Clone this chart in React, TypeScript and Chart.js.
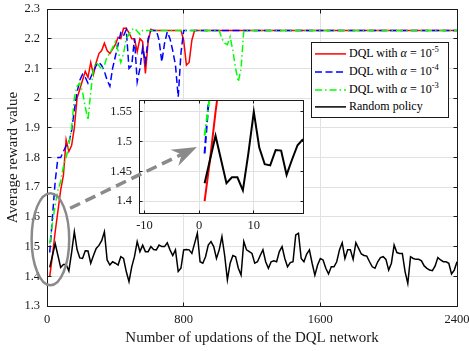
import React, { useEffect, useRef } from "react";
import { Chart, registerables } from "chart.js";

Chart.register(...registerables);

const FONT = "'Liberation Serif', 'Times New Roman', Times, serif";

// ---------------- data ----------------
const updatesPerStep = 16; // network updates between two recorded samples
const lastStep = 150;
const convergedReward = 2.228;

const xTickValues = [0, 800, 1600, 2400];
const yTickValues = [1.3, 1.4, 1.5, 1.6, 1.7, 1.8, 1.9, 2.0, 2.1, 2.2, 2.3];
const insetXTickValues = [-10, 0, 10];
const insetYTickValues = [1.4, 1.45, 1.5, 1.55];

const xTitle = "Number of updations of the DQL network";
const yTitle = "Average reward value";
const randomLabel = "Random policy";
const alphaExponents = ["-5", "-4", "-3"];

// Random policy, samples 1..150
const randomPolicy = [
  1.43, 1.47, 1.51, 1.47, 1.43, 1.44, 1.44, 1.418, 1.48, 1.55,
  1.49, 1.462, 1.46, 1.486, 1.485, 1.444, 1.47, 1.494, 1.504, 1.52,
  1.55, 1.455, 1.438, 1.449, 1.444, 1.438, 1.466, 1.46, 1.416, 1.382,
  1.432, 1.466, 1.517, 1.483, 1.505, 1.483, 1.483, 1.5, 1.49, 1.489,
  1.505, 1.5, 1.5, 1.513, 1.489, 1.47, 1.489, 1.416, 1.427, 1.489,
  1.49, 1.489, 1.477, 1.511, 1.545, 1.449, 1.444, 1.466, 1.505, 1.517,
  1.5, 1.46, 1.489, 1.534, 1.47, 1.388, 1.444, 1.47, 1.466, 1.427,
  1.404, 1.517, 1.489, 1.483, 1.477, 1.444, 1.449, 1.47, 1.489, 1.449,
  1.427, 1.449, 1.452, 1.449, 1.483, 1.5, 1.46, 1.432, 1.446, 1.449,
  1.539, 1.545, 1.46, 1.449, 1.475, 1.489, 1.444, 1.404, 1.438, 1.46,
  1.455, 1.427, 1.408, 1.432, 1.432, 1.449, 1.489, 1.513, 1.46, 1.489,
  1.489, 1.457, 1.513, 1.494, 1.475, 1.47, 1.468, 1.449, 1.432, 1.427,
  1.449, 1.463, 1.466, 1.457, 1.421, 1.444, 1.505, 1.48, 1.477, 1.477,
  1.416, 1.376, 1.466, 1.46, 1.457, 1.457, 1.452, 1.435, 1.427, 1.421,
  1.419, 1.435, 1.463, 1.455, 1.449, 1.449, 1.444, 1.408, 1.421, 1.449,
];

// DQL, alpha = 1e-5 (samples 1..54, then stays at the converged value)
const dqlAlpha5 = [
  1.4, 1.47, 1.55, 1.62, 1.69, 1.74, 1.86, 1.82, 1.84, 1.9,
  2.0, 2.03, 2.06, 2.09, 2.07, 2.12, 2.08, 2.12, 2.15, 2.16,
  2.185, 2.16, 2.15, 2.165, 2.18, 2.205, 2.2, 2.235, 2.235, 2.22,
  2.2, 2.2, 2.156, 2.2, 2.19, 2.083, 2.19, 2.232, 2.228, 2.228,
  2.228, 2.228, 2.228, 2.228, 2.228, 2.228, 2.228, 2.228, 2.228, 2.195,
  2.111, 2.12, 2.195, 2.228,
];

// DQL, alpha = 1e-4 (samples 1..50)
const dqlAlpha4 = [
  1.48, 1.6, 1.72, 1.8, 1.8, 1.82, 1.84, 1.85, 1.89, 1.96,
  2.02, 2.06, 2.08, 2.07, 2.05, 2.07, 2.09, 2.11, 2.12, 2.11,
  2.09, 2.06, 2.04, 2.1, 2.14, 2.18, 2.22, 2.21, 2.23, 2.1,
  2.11, 2.2, 2.055, 2.1, 2.17, 2.12, 2.2, 2.228, 2.228, 2.228,
  2.195, 2.122, 2.184, 2.223, 2.2, 2.16, 2.111, 2.004, 2.15, 2.228,
];

// DQL, alpha = 1e-3 (samples 1..72)
const dqlAlpha3 = [
  1.51, 1.58, 1.64, 1.69, 1.72, 1.77, 1.8, 1.84, 1.9, 2.0,
  2.04, 2.05, 2.02, 1.97, 1.926, 2.02, 2.1, 2.12, 2.11, 2.095,
  2.11, 2.14, 2.15, 2.17, 2.19, 2.16, 2.12, 2.15, 2.2, 2.215,
  2.23, 2.235, 2.225, 2.215, 2.228, 2.228, 2.228, 2.228, 2.228, 2.228,
  2.228, 2.228, 2.228, 2.228, 2.228, 2.228, 2.228, 2.228, 2.228, 2.228,
  2.228, 2.228, 2.228, 2.228, 2.228, 2.228, 2.228, 2.228, 2.228, 2.228,
  2.228, 2.228, 2.228, 2.2, 2.185, 2.18, 2.206, 2.16, 2.1, 2.055,
  2.1, 2.228,
];

// annotation geometry in data units
const zoomEllipse = { x: 20, y: 1.525, rx: 110, ry: 0.155 }; // main-axes units
const arrowFrom = { x: -23.6, y: 1.388 }; // inset-axes units
const arrowTo = { x: -0.4, y: 1.491 };

// ---------------- helpers ----------------
const COLORS = { red: "#ff0000", blue: "#0000ff", green: "#00ff00", black: "#000000", annot: "#8a8a8a" };
const DASH_BLUE = [7, 3.5];
const DASH_GREEN = [7, 3, 1.5, 3];

function toPoints(values: number[], step: number, extend: boolean) {
  const pts = values.map((v, i) => ({ x: (i + 1) * step, y: v }));
  if (extend && values.length < lastStep) pts.push({ x: lastStep * step, y: convergedReward });
  return pts;
}

const fmt = (v: number) => String(Math.round(v * 100) / 100);

function zeroPadding(s: any) {
  s.paddingTop = 0;
  s.paddingBottom = 0;
  s.paddingLeft = 0;
  s.paddingRight = 0;
}

function drawBox(chart: any, len: number) {
  const { ctx, chartArea: a, scales } = chart;
  const al = (p: number) => Math.round(p - 0.5) + 0.5;
  const L = al(a.left), R = al(a.right), T = al(a.top), B = al(a.bottom);
  ctx.save();
  ctx.strokeStyle = "#1a1a1a";
  ctx.lineWidth = 1;
  ctx.setLineDash([]);
  ctx.beginPath();
  for (const t of scales.x.ticks) {
    const p = al(scales.x.getPixelForValue(t.value));
    ctx.moveTo(p, B); ctx.lineTo(p, B - len);
    ctx.moveTo(p, T); ctx.lineTo(p, T + len);
  }
  for (const t of scales.y.ticks) {
    const p = al(scales.y.getPixelForValue(t.value));
    ctx.moveTo(L, p); ctx.lineTo(L + len, p);
    ctx.moveTo(R, p); ctx.lineTo(R - len, p);
  }
  ctx.stroke();
  ctx.strokeRect(L, T, R - L, B - T);
  ctx.restore();
}

function datasets(step: number, extend: boolean, width: number) {
  const common = { pointRadius: 0, fill: false, tension: 0, borderWidth: width };
  return [
    { ...common, label: "a5", data: toPoints(dqlAlpha5, step, extend), borderColor: COLORS.red, order: 3 },
    { ...common, label: "a4", data: toPoints(dqlAlpha4, step, extend), borderColor: COLORS.blue, borderDash: DASH_BLUE, order: 2 },
    { ...common, label: "a3", data: toPoints(dqlAlpha3, step, extend), borderColor: COLORS.green, borderDash: DASH_GREEN, order: 1 },
    { ...common, label: randomLabel, data: toPoints(randomPolicy, step, false), borderColor: COLORS.black, order: 0 },
  ];
}

const tickFont = { family: FONT, size: 12.5 };
const titleFont = { family: FONT, size: 15 };

export default function App() {
  const mainRef = useRef<HTMLCanvasElement>(null);
  const insetRef = useRef<HTMLCanvasElement>(null);

  useEffect(() => {
    const mainPlugin = {
      id: "mainExtras",
      afterDatasetsDraw(chart: any) {
        drawBox(chart, 4);
        const { ctx, scales: { x, y } } = chart;
        const cx = x.getPixelForValue(zoomEllipse.x);
        const cy = y.getPixelForValue(zoomEllipse.y);
        const rx = Math.abs(x.getPixelForValue(zoomEllipse.x + zoomEllipse.rx) - cx);
        const ry = Math.abs(y.getPixelForValue(zoomEllipse.y + zoomEllipse.ry) - cy);
        ctx.save();
        ctx.strokeStyle = COLORS.annot;
        ctx.lineWidth = 2.5;
        ctx.beginPath();
        ctx.ellipse(cx, cy, rx, ry, 0, 0, Math.PI * 2);
        ctx.stroke();
        ctx.restore();
      },
    };

    const main = new Chart(mainRef.current!, {
      type: "line",
      data: { datasets: datasets(updatesPerStep, true, 1.5) as any },
      options: {
        animation: false,
        responsive: false,
        devicePixelRatio: 1,
        layout: { padding: { top: 9, right: 12, left: 0, bottom: 0 } },
        plugins: { legend: { display: false }, tooltip: { enabled: false } },
        scales: {
          x: {
            type: "linear",
            min: 0,
            max: 2400,
            afterBuildTicks: (s: any) => { s.ticks = xTickValues.map((v) => ({ value: v })); },
            afterFit: (s: any) => { s.height = 45; zeroPadding(s); },
            grid: { color: "#e1e1e1", drawTicks: false },
            border: { display: false },
            ticks: { font: tickFont, color: "#1a1a1a", padding: 6, maxRotation: 0, autoSkip: false, callback: (v: any) => fmt(Number(v)) },
            title: { display: true, text: xTitle, font: titleFont, color: "#1a1a1a", padding: { top: 0, bottom: 4 } },
          },
          y: {
            type: "linear",
            min: 1.3,
            max: 2.3,
            afterBuildTicks: (s: any) => { s.ticks = yTickValues.map((v) => ({ value: v })); },
            afterFit: (s: any) => { s.width = 47; zeroPadding(s); },
            grid: { color: "#e1e1e1", drawTicks: false },
            border: { display: false },
            ticks: { font: tickFont, color: "#1a1a1a", padding: 7, autoSkip: false, callback: (v: any) => fmt(Number(v)) },
            title: { display: true, text: yTitle, font: titleFont, color: "#1a1a1a", padding: { top: 4, bottom: 0 } },
          },
        },
      },
      plugins: [mainPlugin],
    });

    const insetPlugin = {
      id: "insetExtras",
      beforeDraw(chart: any) {
        const { ctx, chartArea: a } = chart;
        ctx.save();
        ctx.fillStyle = "#ffffff";
        ctx.fillRect(a.left, a.top, a.right - a.left, a.bottom - a.top);
        ctx.restore();
      },
      afterDatasetsDraw(chart: any) {
        drawBox(chart, 3);
      },
      afterDraw(chart: any) {
        const { ctx, scales: { x, y } } = chart;
        const x0 = x.getPixelForValue(arrowFrom.x), y0 = y.getPixelForValue(arrowFrom.y);
        const x1 = x.getPixelForValue(arrowTo.x), y1 = y.getPixelForValue(arrowTo.y);
        const dx = x1 - x0, dy = y1 - y0;
        const len = Math.hypot(dx, dy);
        const ux = dx / len, uy = dy / len;
        const nx = -uy, ny = ux;
        const headL = 25, headW = 9, notch = 17;
        ctx.save();
        ctx.strokeStyle = COLORS.annot;
        ctx.fillStyle = COLORS.annot;
        ctx.lineWidth = 3.5;
        ctx.setLineDash([11, 6]);
        ctx.beginPath();
        ctx.moveTo(x0, y0);
        ctx.lineTo(x1 - ux * notch, y1 - uy * notch);
        ctx.stroke();
        ctx.setLineDash([]);
        ctx.beginPath();
        ctx.moveTo(x1, y1);
        ctx.lineTo(x1 - ux * headL + nx * headW, y1 - uy * headL + ny * headW);
        ctx.lineTo(x1 - ux * notch, y1 - uy * notch);
        ctx.lineTo(x1 - ux * headL - nx * headW, y1 - uy * headL - ny * headW);
        ctx.closePath();
        ctx.fill();
        ctx.restore();
      },
    };

    const inset = new Chart(insetRef.current!, {
      type: "line",
      data: { datasets: datasets(1, false, 2) as any },
      options: {
        animation: false,
        responsive: false,
        devicePixelRatio: 1,
        layout: { padding: { top: 6, right: 7, left: 0, bottom: 0 } },
        plugins: { legend: { display: false }, tooltip: { enabled: false } },
        scales: {
          x: {
            type: "linear",
            min: -11,
            max: 19,
            afterBuildTicks: (s: any) => { s.ticks = insetXTickValues.map((v) => ({ value: v })); },
            afterFit: (s: any) => { s.height = 31; zeroPadding(s); },
            grid: { color: "#e1e1e1", drawTicks: false },
            border: { display: false },
            ticks: { font: tickFont, color: "#1a1a1a", padding: 5, maxRotation: 0, autoSkip: false, callback: (v: any) => fmt(Number(v)) },
          },
          y: {
            type: "linear",
            min: 1.38,
            max: 1.57,
            afterBuildTicks: (s: any) => { s.ticks = insetYTickValues.map((v) => ({ value: v })); },
            afterFit: (s: any) => { s.width = 79; zeroPadding(s); },
            grid: { color: "#e1e1e1", drawTicks: false },
            border: { display: false },
            ticks: { font: tickFont, color: "#1a1a1a", padding: 7, autoSkip: false, callback: (v: any) => fmt(Number(v)) },
          },
        },
      },
      plugins: [insetPlugin],
    });

    return () => {
      main.destroy();
      inset.destroy();
    };
  }, []);

  const legendRows = [
    { color: COLORS.red, dash: "", exp: alphaExponents[0] },
    { color: COLORS.blue, dash: DASH_BLUE.join(" "), exp: alphaExponents[1] },
    { color: COLORS.green, dash: DASH_GREEN.join(" "), exp: alphaExponents[2] },
    { color: COLORS.black, dash: "", exp: null as string | null },
  ];
  const rowH = 17.8;

  return (
    <div style={{ position: "fixed", left: 0, top: 0, width: 469, height: 351, background: "#fff", overflow: "hidden" }}>
      <canvas ref={mainRef} width={469} height={351} style={{ position: "absolute", left: 0, top: 0 }} />
      <canvas ref={insetRef} width={250} height={150} style={{ position: "absolute", left: 60, top: 94 }} />
      <div
        style={{
          position: "absolute",
          left: 311,
          top: 42,
          width: 138,
          height: 76,
          boxSizing: "border-box",
          border: "1px solid #1a1a1a",
          background: "#fff",
          fontFamily: FONT,
          fontSize: 12,
          color: "#000",
        }}
      >
        {legendRows.map((r, k) => (
          <div key={k} style={{ position: "absolute", left: 0, top: 2 + k * rowH, width: "100%", height: rowH }}>
            <svg width={32} height={rowH} style={{ position: "absolute", left: 3, top: 0 }}>
              <line x1={0} x2={31} y1={rowH / 2} y2={rowH / 2} stroke={r.color} strokeWidth={1.5} strokeDasharray={r.dash || undefined} />
            </svg>
            <span style={{ position: "absolute", left: 37, top: 0, lineHeight: `${rowH}px`, whiteSpace: "nowrap" }}>
              {r.exp === null ? (
                randomLabel
              ) : (
                <>
                  DQL with <i>α</i> = 10
                  <span style={{ fontSize: 8.5, position: "relative", top: -5 }}>{r.exp}</span>
                </>
              )}
            </span>
          </div>
        ))}
      </div>
    </div>
  );
}
